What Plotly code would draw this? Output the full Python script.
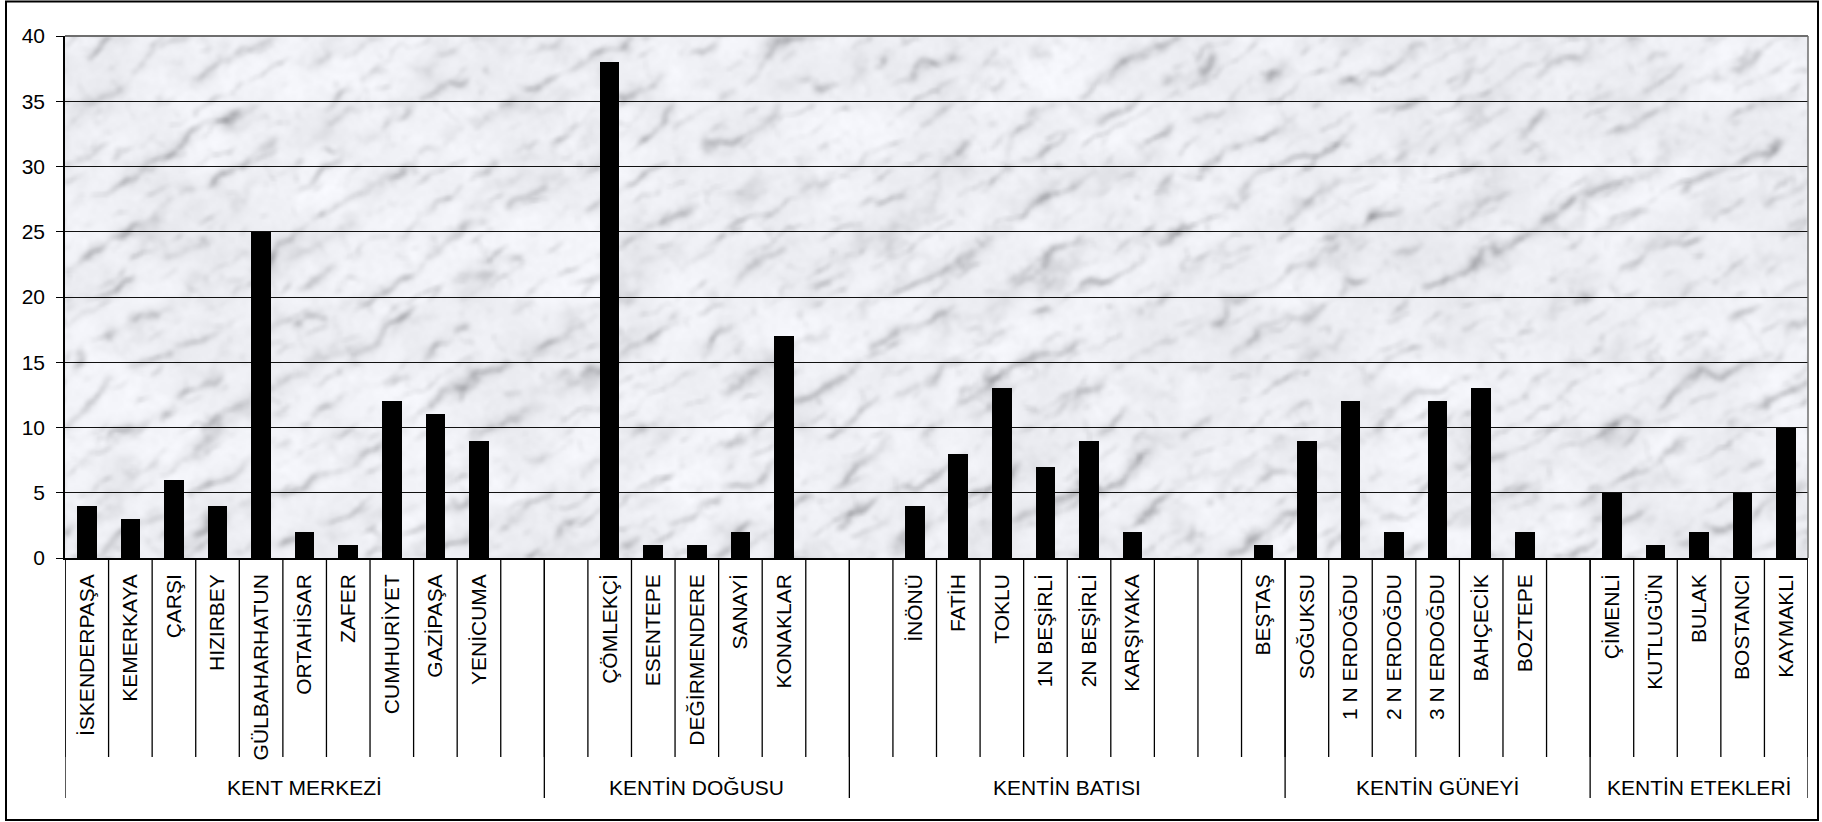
import base64
import struct
import zlib

import numpy as np
import plotly.graph_objects as go

# ---------------------------------------------------------------- data
# Each district group: neighbourhood names ("" = empty slot) and counts
kent_merkezi = ["İSKENDERPAŞA", "KEMERKAYA", "ÇARŞI", "HIZIRBEY", "GÜLBAHARHATUN",
                "ORTAHİSAR", "ZAFER", "CUMHURİYET", "GAZİPAŞA", "YENİCUMA", ""]
kent_merkezi_vals = [4, 3, 6, 4, 25, 2, 1, 12, 11, 9, None]

kentin_dogusu = ["", "ÇÖMLEKÇİ", "ESENTEPE", "DEĞİRMENDERE", "SANAYİ", "KONAKLAR", ""]
kentin_dogusu_vals = [None, 38, 1, 1, 2, 17, None]

kentin_batisi = ["", "İNÖNÜ", "FATİH", "TOKLU", "1N BEŞİRLİ", "2N BEŞİRLİ",
                 "KARŞIYAKA", "", "", "BEŞTAŞ"]
kentin_batisi_vals = [None, 4, 8, 13, 7, 9, 2, None, None, 1]

kentin_guneyi = ["SOĞUKSU", "1 N ERDOĞDU", "2 N ERDOĞDU", "3 N ERDOĞDU",
                 "BAHÇECİK", "BOZTEPE", ""]
kentin_guneyi_vals = [9, 12, 2, 12, 13, 2, None]

kentin_etekleri = ["ÇİMENLİ", "KUTLUGÜN", "BULAK", "BOSTANCI", "KAYMAKLI"]
kentin_etekleri_vals = [5, 1, 2, 5, 10]

group_names = ["KENT MERKEZİ", "KENTİN DOĞUSU", "KENTİN BATISI",
               "KENTİN GÜNEYİ", "KENTİN ETEKLERİ"]
y_ticks = [0, 5, 10, 15, 20, 25, 30, 35, 40]

groups = [
    (kent_merkezi, kent_merkezi_vals),
    (kentin_dogusu, kentin_dogusu_vals),
    (kentin_batisi, kentin_batisi_vals),
    (kentin_guneyi, kentin_guneyi_vals),
    (kentin_etekleri, kentin_etekleri_vals),
]

labels, values, group_sizes = [], [], []
for names, vals in groups:
    labels += names
    values += vals
    group_sizes.append(len(names))
positions = list(range(len(labels)))


# ---------------------------------------------------------------- marble texture
def _hash(ix, iy):
    v = np.sin(ix * 127.1 + iy * 311.7) * 43758.5453
    return v - np.floor(v)


def _value_noise(x, y):
    ix, iy = np.floor(x), np.floor(y)
    fx, fy = x - ix, y - iy
    ux, uy = fx * fx * (3 - 2 * fx), fy * fy * (3 - 2 * fy)
    a = _hash(ix, iy)
    b = _hash(ix + 1, iy)
    c = _hash(ix, iy + 1)
    d = _hash(ix + 1, iy + 1)
    return (a * (1 - ux) + b * ux) * (1 - uy) + (c * (1 - ux) + d * ux) * uy


def _fbm(x, y, octaves=5):
    total, amp, freq, norm = 0.0, 1.0, 1.0, 0.0
    for _ in range(octaves):
        total = total + amp * _value_noise(x * freq, y * freq)
        norm += amp
        amp *= 0.5
        freq *= 2.03
    return total / norm


def _blur(a, r=1):
    out = np.zeros_like(a)
    cnt = 0
    for dy in range(-r, r + 1):
        for dx in range(-r, r + 1):
            out += np.roll(np.roll(a, dy, axis=0), dx, axis=1)
            cnt += 1
    return out / cnt


def marble_png(w, h):
    yy, xx = np.mgrid[0:h, 0:w].astype(float)
    # veins run diagonally, rising to the right
    ang = np.deg2rad(30)
    p = xx * np.sin(ang) + yy * np.cos(ang)

    t1 = _fbm(xx / 24.0, yy / 24.0)
    t2 = _fbm(xx / 13.0 + 11.3, yy / 13.0 + 4.7)
    t3 = _fbm(xx / 8.0 + 31.3, yy / 8.0 + 14.7)
    t4 = _fbm(xx / 18.0 + 51.3, yy / 18.0 + 24.7)
    cloud = _fbm(xx / 26.0 + 3.1, yy / 26.0 + 9.2)

    v1 = (1 - np.abs(np.sin(p / 7.0 + 3.2 * t1))) ** 4
    v2 = (1 - np.abs(np.sin(p / 4.0 + 2.8 * t2 + 1.3))) ** 6
    v3 = (1 - np.abs(np.sin((xx * 0.8 - yy * 0.6) / 5.0 + 4.0 * t3))) ** 7
    v4 = (1 - np.abs(np.sin(p / 11.0 + 4.0 * t4 + 0.7))) ** 2
    m1 = np.clip((_fbm(xx / 14.0 + 40, yy / 14.0) - 0.42) * 3.2, 0, 1)
    m2 = np.clip((_fbm(xx / 9.0, yy / 9.0 + 70) - 0.46) * 3.2, 0, 1)
    m3 = np.clip((_fbm(xx / 8.0 + 90, yy / 8.0 + 20) - 0.55) * 3.0, 0, 1)
    m4 = np.clip((_fbm(xx / 20.0 + 15, yy / 20.0 + 45) - 0.40) * 2.5, 0, 1)
    speck = _fbm(xx / 2.0 + 5, yy / 2.0 + 8, 3)

    dark = (72 * v1 * m1 + 60 * v2 * m2 + 48 * v3 * m3 + 26 * v4 * m4
            + 22 * (cloud - 0.35) + 12 * (speck - 0.5))
    dark = _blur(dark, 1)
    g = np.clip(247 - dark, 135, 252)
    r = np.clip(g - 3, 0, 255)
    gg = np.clip(g - 2, 0, 255)
    b = np.clip(g + 3, 0, 255)
    img = np.stack([r, gg, b], axis=-1).astype(np.uint8)

    raw = b"".join(b"\x00" + img[row].tobytes() for row in range(h))

    def chunk(tag, data):
        body = tag + data
        return struct.pack(">I", len(data)) + body + struct.pack(">I", zlib.crc32(body) & 0xFFFFFFFF)

    png = (b"\x89PNG\r\n\x1a\n"
           + chunk(b"IHDR", struct.pack(">IIBBBBB", w, h, 8, 2, 0, 0, 0))
           + chunk(b"IDAT", zlib.compress(raw, 9))
           + chunk(b"IEND", b""))
    return "data:image/png;base64," + base64.b64encode(png).decode()


# ---------------------------------------------------------------- geometry (pixels)
W, H = 1822, 822
L, R, T, B = 65, 14, 36, 264
plot_w, plot_h = W - L - R, H - T - B


def py(pix_y):
    """pixel row -> paper y"""
    return (H - B - pix_y) / plot_h


def px(pix_x):
    """pixel column -> paper x"""
    return (pix_x - L) / plot_w


FONT = "Liberation Sans, Arial, sans-serif"

fig = go.Figure()
fig.add_trace(go.Bar(
    x=positions, y=values, width=0.45,
    marker=dict(color="black", line=dict(width=0)),
    hoverinfo="x+y",
))

shapes = []
n = len(labels)
# category separator ticks
for k in range(n + 1):
    shapes.append(dict(type="line", xref="x", yref="paper",
                       x0=k - 0.5, x1=k - 0.5, y0=0, y1=py(757),
                       line=dict(color="black", width=1.3)))
# group separators (longer)
start = 0
bounds = [0]
for s in group_sizes:
    start += s
    bounds.append(start)
for bnd in bounds:
    shapes.append(dict(type="line", xref="x", yref="paper",
                       x0=bnd - 0.5, x1=bnd - 0.5, y0=0, y1=py(798),
                       line=dict(color="black", width=1.3)))
# grey frame on top and right of the plot area
shapes.append(dict(type="line", xref="paper", yref="paper", x0=0, x1=1, y0=1, y1=1,
                   line=dict(color="#6e6e6e", width=2)))
shapes.append(dict(type="line", xref="paper", yref="paper", x0=1, x1=1, y0=0, y1=1,
                   line=dict(color="#6e6e6e", width=1.5)))
# outer chart border
shapes.append(dict(type="rect", xref="paper", yref="paper",
                   x0=px(6), x1=px(1818), y0=py(820), y1=py(1.5),
                   line=dict(color="black", width=2), fillcolor="rgba(0,0,0,0)"))

annotations = []
for gi, name in enumerate(group_names):
    center = (bounds[gi] + bounds[gi + 1] - 1) / 2
    annotations.append(dict(x=center, y=py(787), xref="x", yref="paper",
                            text=name, showarrow=False, xanchor="center", yanchor="middle",
                            font=dict(family=FONT, size=21, color="black")))

fig.update_layout(
    width=W, height=H,
    margin=dict(l=L, r=R, t=T, b=B, pad=0),
    paper_bgcolor="white",
    plot_bgcolor="rgba(0,0,0,0)",
    showlegend=False,
    bargap=0,
    shapes=shapes,
    annotations=annotations,
    images=[dict(source=marble_png(872, 262), xref="paper", yref="paper",
                 x=0, y=1, sizex=1, sizey=1, sizing="stretch",
                 xanchor="left", yanchor="top", layer="below")],
    font=dict(family=FONT, size=21, color="black"),
)
fig.update_xaxes(
    range=[-0.5, n - 0.5], tickmode="array", tickvals=positions, ticktext=labels,
    tickangle=-90, ticks="", showgrid=False, zeroline=False,
    showline=True, linecolor="black", linewidth=1.5,
    tickfont=dict(family=FONT, size=21, color="black"),
    ticklabelstandoff=6, automargin=False, fixedrange=True,
)
fig.update_yaxes(
    range=[0, 40], tickmode="array", tickvals=y_ticks,
    ticks="outside", ticklen=7, tickwidth=1.3, tickcolor="black",
    showgrid=True, gridcolor="#111111", gridwidth=1.3, zeroline=False,
    showline=True, linecolor="black", linewidth=1.5,
    tickfont=dict(family=FONT, size=21, color="black"),
    ticklabelstandoff=7, automargin=False, fixedrange=True,
)

fig.write_html("out.html")
